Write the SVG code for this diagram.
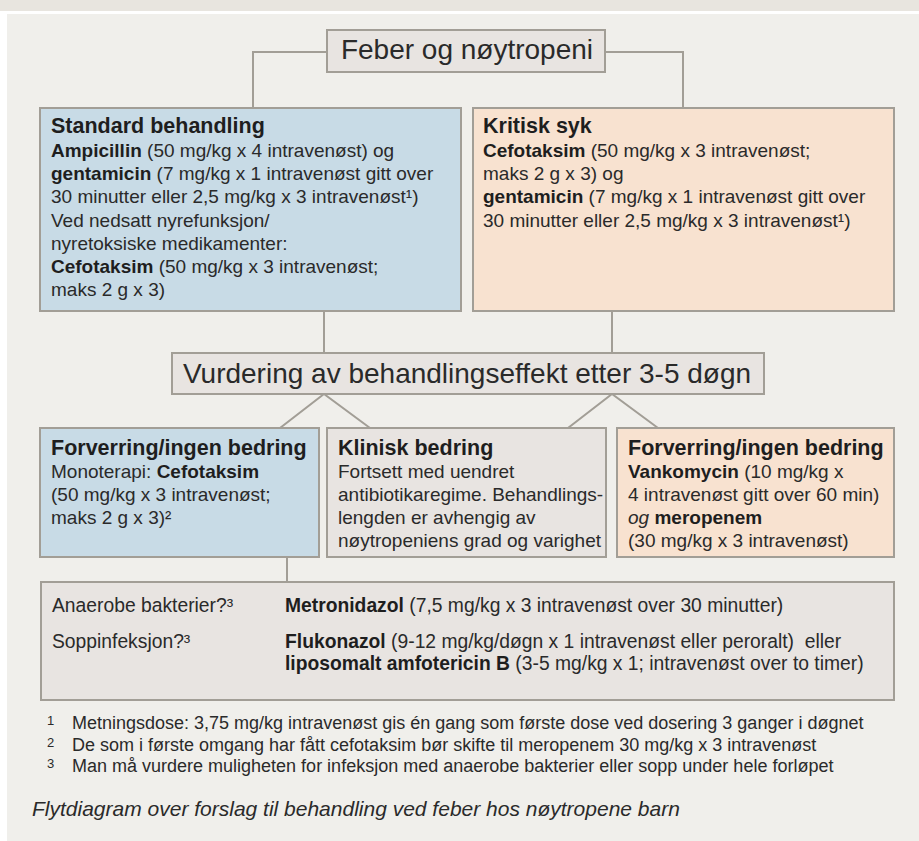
<svg xmlns="http://www.w3.org/2000/svg" width="919" height="841" viewBox="0 0 919 841">
<style>
.box{stroke:#a29e96;stroke-width:2}
.grey{fill:#e8e4e1}
.blue{fill:#c8dbe6}
.orange{fill:#f8e2d0}
.conn{fill:none;stroke:#a29e96;stroke-width:2}
text{font-family:"Liberation Sans",Arial,sans-serif;fill:#2a2a2a}
.t{font-size:28px}
.h{font-size:21.5px;font-weight:bold;fill:#1e1e1e}
.b{font-size:19px}
.g{font-size:19.3px}
.s{font-size:18px}
.fn{font-size:13px}
.cap{font-size:21px;font-style:italic}
.k{font-weight:bold;fill:#1e1e1e}
</style>
<rect x="0" y="0" width="919" height="841" fill="#ffffff"/>
<rect x="0" y="0" width="919" height="11" fill="#e8e5df"/>
<rect x="7" y="14" width="912" height="827" fill="#f0efeb"/>

<g id="connectors">
<path class="conn" d="M327,52 H253 V108"/>
<path class="conn" d="M605,52 H683 V108"/>
<path class="conn" d="M324,311 V353"/>
<path class="conn" d="M612,311 V353"/>
<path class="conn" d="M280,428 L324,394 L370,428"/>
<path class="conn" d="M568,428 L612,394 L658,428"/>
<path class="conn" d="M287,557 V582"/>
</g>

<g id="feber">
<rect class="box grey" x="327" y="30" width="278" height="42"/>
<text class="t" x="467" y="59" text-anchor="middle">Feber og nøytropeni</text>
</g>

<g id="standard">
<rect class="box blue" x="40" y="108" width="421" height="203"/>
<text class="h" x="51" y="133">Standard behandling</text>
<text class="b" x="51" y="156.5"><tspan class="k">Ampicillin</tspan> (50 mg/kg x 4 intravenøst) og</text>
<text class="b" x="51" y="180"><tspan class="k">gentamicin</tspan> (7 mg/kg x 1 intravenøst gitt over</text>
<text class="b" x="51" y="203">30 minutter eller 2,5 mg/kg x 3 intravenøst¹)</text>
<text class="b" x="51" y="226.5">Ved nedsatt nyrefunksjon/</text>
<text class="b" x="51" y="249.5">nyretoksiske medikamenter:</text>
<text class="b" x="51" y="273"><tspan class="k">Cefotaksim</tspan> (50 mg/kg x 3 intravenøst;</text>
<text class="b" x="51" y="296">maks 2 g x 3)</text>
</g>

<g id="kritisk">
<rect class="box orange" x="473" y="108" width="421" height="203"/>
<text class="h" x="483" y="133">Kritisk syk</text>
<text class="b" x="483" y="156.5"><tspan class="k">Cefotaksim</tspan> (50 mg/kg x 3 intravenøst;</text>
<text class="b" x="483" y="180">maks 2 g x 3) og</text>
<text class="b" x="483" y="203"><tspan class="k">gentamicin</tspan> (7 mg/kg x 1 intravenøst gitt over</text>
<text class="b" x="483" y="226.5">30 minutter eller 2,5 mg/kg x 3 intravenøst¹)</text>
</g>

<g id="vurdering">
<rect class="box grey" x="172" y="353" width="592" height="41"/>
<text class="t" x="467" y="383" text-anchor="middle">Vurdering av behandlingseffekt etter 3-5 døgn</text>
</g>

<g id="forverring1">
<rect class="box blue" x="40" y="428" width="279" height="129"/>
<text class="h" x="51" y="455">Forverring/ingen bedring</text>
<text class="b" x="51" y="478">Monoterapi: <tspan class="k">Cefotaksim</tspan></text>
<text class="b" x="51" y="501">(50 mg/kg x 3 intravenøst;</text>
<text class="b" x="51" y="524">maks 2 g x 3)²</text>
</g>

<g id="klinisk">
<rect class="box grey" x="327" y="428" width="279" height="129"/>
<text class="h" x="338" y="455">Klinisk bedring</text>
<text class="b" x="338" y="478">Fortsett med uendret</text>
<text class="b" x="338" y="501">antibiotikaregime. Behandlings-</text>
<text class="b" x="338" y="524">lengden er avhengig av</text>
<text class="b" x="338" y="547">nøytropeniens grad og varighet</text>
</g>

<g id="forverring2">
<rect class="box orange" x="617" y="428" width="277" height="129"/>
<text class="h" x="628" y="455">Forverring/ingen bedring</text>
<text class="b" x="628" y="478"><tspan class="k">Vankomycin</tspan> (10 mg/kg x</text>
<text class="b" x="628" y="501">4 intravenøst gitt over 60 min)</text>
<text class="b" x="628" y="524"><tspan font-style="italic">og</tspan> <tspan class="k">meropenem</tspan></text>
<text class="b" x="628" y="547">(30 mg/kg x 3 intravenøst)</text>
</g>

<g id="tillegg">
<rect class="box grey" x="41" y="582" width="853" height="118"/>
<text class="g" x="52" y="612">Anaerobe bakterier?³</text>
<text class="g" x="285" y="612"><tspan class="k">Metronidazol</tspan> (7,5 mg/kg x 3 intravenøst over 30 minutter)</text>
<text class="g" x="52" y="648">Soppinfeksjon?³</text>
<text class="g" x="285" y="648"><tspan class="k">Flukonazol</tspan> (9-12 mg/kg/døgn x 1 intravenøst eller peroralt)&#160; eller</text>
<text class="g" x="285" y="670"><tspan class="k">liposomalt amfotericin B</tspan> (3-5 mg/kg x 1; intravenøst over to timer)</text>
</g>

<g id="fotnoter">
<text class="fn" x="47" y="725">1</text>
<text class="s" x="72" y="729">Metningsdose: 3,75 mg/kg intravenøst gis én gang som første dose ved dosering 3 ganger i døgnet</text>
<text class="fn" x="47" y="747">2</text>
<text class="s" x="72" y="751">De som i første omgang har fått cefotaksim bør skifte til meropenem 30 mg/kg x 3 intravenøst</text>
<text class="fn" x="47" y="768">3</text>
<text class="s" x="72" y="772">Man må vurdere muligheten for infeksjon med anaerobe bakterier eller sopp under hele forløpet</text>
</g>

<text class="cap" x="32" y="816">Flytdiagram over forslag til behandling ved feber hos nøytropene barn</text>
</svg>
